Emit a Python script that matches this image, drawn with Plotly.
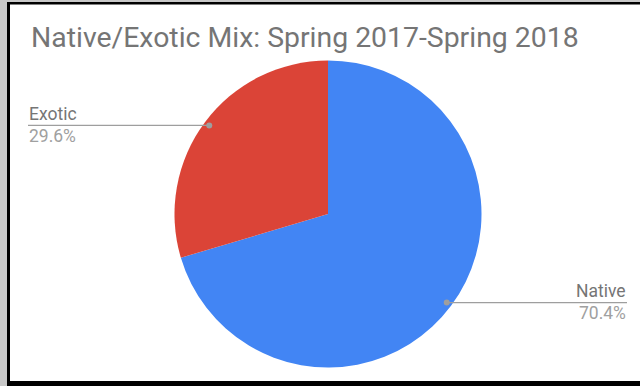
import math
import plotly.graph_objects as go

# ---- data ----
labels = ["Native", "Exotic"]
values = [70.4, 29.6]
colors = ["#4285F4", "#DB4437"]
title_text = "Native/Exotic Mix: Spring 2017-Spring 2018"

W, H = 640, 386
cx, cy, R = 328, 214, 153.5  # pixel centre/radius of pie (layout)

fig = go.Figure()
fig.add_trace(go.Pie(
    labels=labels, values=values, sort=False, direction="clockwise", rotation=0,
    marker=dict(colors=colors, line=dict(width=0)),
    textinfo="none", hoverinfo="label+percent", showlegend=False,
    domain=dict(x=[(cx - R) / W, (cx + R) / W], y=[(H - cy - R) / H, (H - cy + R) / H]),
))

def px(x):
    return x / W

def py(y):
    return 1 - y / H

shapes = []
annotations = []

# frame
shapes.append(dict(type="rect", xref="paper", yref="paper", x0=0, x1=px(7), y0=0, y1=1,
                   fillcolor="#c8c8c8", line=dict(width=0), layer="above"))
shapes.append(dict(type="rect", xref="paper", yref="paper", x0=0, x1=1, y0=py(2), y1=1,
                   fillcolor="#c8c8c8", line=dict(width=0), layer="above"))
shapes.append(dict(type="rect", xref="paper", yref="paper", x0=px(7), x1=px(10), y0=0, y1=py(2),
                   fillcolor="#000000", line=dict(width=0), layer="above"))
shapes.append(dict(type="rect", xref="paper", yref="paper", x0=px(7), x1=1, y0=py(2), y1=py(4.5),
                   fillcolor="#000000", line=dict(width=0), layer="above"))
shapes.append(dict(type="rect", xref="paper", yref="paper", x0=px(7), x1=1, y0=0, y1=py(381),
                   fillcolor="#000000", line=dict(width=0), layer="above"))

# title
annotations.append(dict(text=title_text, xref="paper", yref="paper", x=px(29), y=py(37),
                        xanchor="left", yanchor="middle", showarrow=False,
                        font=dict(family="Roboto", size=28.4, color="#757575")))

# leader labels
total = sum(values)
start = 0.0
label_side = {"Native": ("right", 627), "Exotic": ("left", 28)}
for lab, val in zip(labels, values):
    frac = val / total
    mid = (start + frac / 2) * 2 * math.pi
    start += frac
    dx = math.sin(mid) * R * 0.965
    dy = math.cos(mid) * R * 0.965
    dotx, doty = cx + dx, cy - dy
    side, lx = label_side[lab]
    ly = doty
    shapes.append(dict(type="line", xref="paper", yref="paper", x0=px(dotx), x1=px(lx),
                       y0=py(ly), y1=py(ly), line=dict(color="#9e9e9e", width=1.3)))
    shapes.append(dict(type="circle", xref="paper", yref="paper",
                       x0=px(dotx - 3), x1=px(dotx + 3), y0=py(doty + 3), y1=py(doty - 3),
                       fillcolor="#9e9e9e", line=dict(width=0)))
    anchor = "left" if side == "left" else "right"
    annotations.append(dict(text=lab, xref="paper", yref="paper", x=px(lx), y=py(ly - 11.5),
                            xanchor=anchor, yanchor="middle", showarrow=False, borderpad=0,
                            font=dict(family="Roboto", size=17.5, color="#757575")))
    annotations.append(dict(text=f"{val:.1f}%", xref="paper", yref="paper", x=px(lx), y=py(ly + 10.5),
                            xanchor=anchor, yanchor="middle", showarrow=False, borderpad=0,
                            font=dict(family="Roboto", size=17.5, color="#a0a0a0")))

fig.update_layout(width=W, height=H, margin=dict(l=0, r=0, t=0, b=0),
                  paper_bgcolor="white", plot_bgcolor="white",
                  shapes=shapes, annotations=annotations)
fig.write_html("out.html", config={"displayModeBar": False},
               post_script="document.body.style.margin='0';document.body.style.overflow='hidden';")
